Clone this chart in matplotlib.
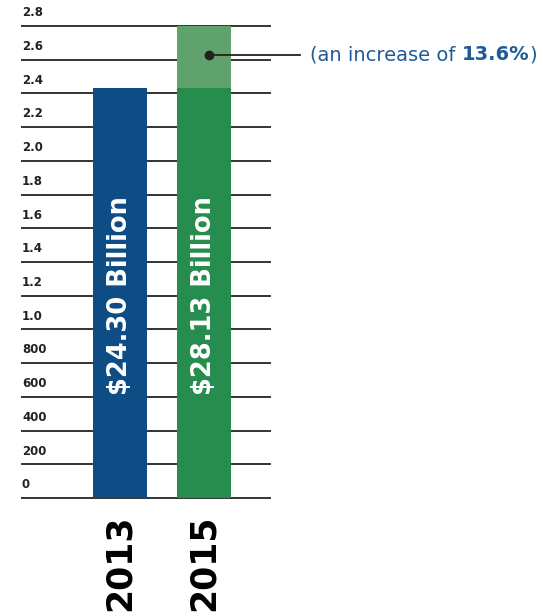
import numpy as np
import matplotlib
matplotlib.use('Agg')
import matplotlib.pyplot as plt

# data
years = ['2013', '2015']
values = [2.43, 2.825]          # in axis units (billions / 10)
bar_labels = ['$24.30 Billion', '$28.13 Billion']
base_2013 = 2.43
tick_vals = [0, 0.2, 0.4, 0.6, 0.8, 1.0, 1.2, 1.4, 1.6, 1.8, 2.0, 2.2, 2.4, 2.6, 2.8]
tick_labels = ['0', '200', '400', '600', '800', '1.0', '1.2', '1.4', '1.6',
               '1.8', '2.0', '2.2', '2.4', '2.6', '2.8']
note_value = 2.63

blue = '#0d4c84'
green = '#268d4e'
light_green = '#5fa26b'
text_blue = '#1f5c97'

fig = plt.figure(figsize=(5.41, 6.16), dpi=100)
ax = fig.add_axes([22 / 541, 1 - 498 / 616, 248 / 541, (498 - 26) / 616])

x = np.arange(len(years))
w = 54 / 84
ax.bar(x[0], values[0], width=w, color=blue, zorder=3)
ax.bar(x[1], base_2013, width=w, color=green, zorder=3)
ax.bar(x[1], values[1] - base_2013, bottom=base_2013, width=w, color=light_green, zorder=3)

ax.set_xlim(-98 / 84, 1 + 66 / 84)
ax.set_ylim(0, 2.8)

# horizontal rules
for t in tick_vals:
    ax.axhline(t, color='#333333', lw=1.4, zorder=1, clip_on=False)
for t, lab in zip(tick_vals, tick_labels):
    ax.text(0, t + 0.04, lab, transform=ax.get_yaxis_transform(), ha='left', va='bottom',
            fontsize=8.5, fontweight='bold', color='#222222', family='DejaVu Sans')

ax.set_xticks([])
ax.set_yticks([])
for s in ax.spines.values():
    s.set_visible(False)

# labels inside bars
for xi, lab in zip(x, bar_labels):
    ax.text(xi, 1.2, lab, rotation=90, ha='center', va='center', color='white',
            fontsize=18.5, fontweight='semibold', family='DejaVu Sans', zorder=4)

# year labels below bars
for xi, yr in zip(x, years):
    ax.text(xi, -0.1, yr, rotation=90, ha='center', va='top', fontsize=25,
            fontweight='bold', color='black', family='DejaVu Sans', clip_on=False)

# annotation
dot_x = 1 + 5 / 84
ax.plot([dot_x, 1 + 96 / 84], [note_value, note_value], color='#222222', lw=1.3,
        zorder=5, clip_on=False)
ax.plot(dot_x, note_value, 'o', color='#222222', ms=6, zorder=6)
t1 = ax.text(1 + 106 / 84, note_value, '(an increase of ', ha='left', va='center',
             fontsize=14, color=text_blue, family='DejaVu Sans')
t2 = ax.annotate('13.6%', xy=(1, 0), xycoords=t1, ha='left', va='bottom',
                 fontsize=14, fontweight='bold', color=text_blue, family='DejaVu Sans')
ax.annotate(')', xy=(1, 0), xycoords=t2, ha='left', va='bottom',
            fontsize=14, color=text_blue, family='DejaVu Sans')

fig.savefig('out.png', dpi=100)
